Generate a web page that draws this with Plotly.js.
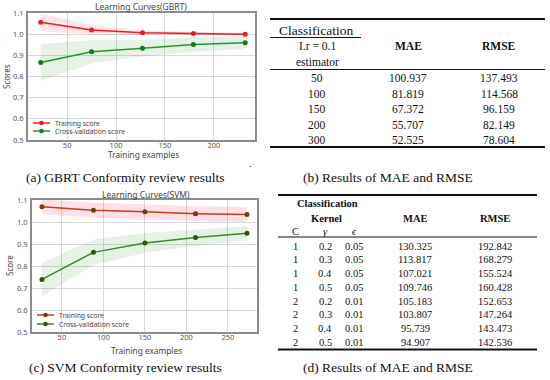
<!DOCTYPE html>
<html><head><meta charset="utf-8">
<script src="https://cdn.plot.ly/plotly-3.0.1.min.js"></script>
<style>html,body{margin:0;padding:0;background:#fff}#chart{width:550px;height:380px}</style>
</head><body><div id="chart"></div>
<script>
// ---- Data: (a) GBRT learning curve ----
const gbrtSizes = [23, 75, 127, 179, 232];
const gbrtTrainMean = [1.056, 1.020, 1.007, 1.003, 1.000];
const gbrtTrainStd = [0.042, 0.022, 0.012, 0.008, 0.006];
const gbrtCvMean = [0.866, 0.917, 0.934, 0.951, 0.959];
const gbrtCvStd = [0.086, 0.055, 0.040, 0.035, 0.030];

// ---- Data: (c) SVM learning curve ----
const svmSizes = [26, 88, 150, 211, 273];
const svmTrainMean = [1.069, 1.053, 1.047, 1.038, 1.034];
const svmTrainStd = [0.034, 0.034, 0.034, 0.034, 0.034];
const svmCvMean = [0.739, 0.862, 0.905, 0.929, 0.949];
const svmCvStd = [0.075, 0.058, 0.045, 0.038, 0.032];

const seriesNames = ['Training score', 'Cross-validation score'];

// ---- Data: (b) table ----
const tableBEstimators = ['50', '100', '150', '200', '300'];
const tableBMAE = ['100.937', '81.819', '67.372', '55.707', '52.525'];
const tableBRMSE = ['137.493', '114.568', '96.159', '82.149', '78.604'];

// ---- Data: (d) table ----
const tableDC = ['1', '1', '1', '1', '2', '2', '2', '2'];
const tableDGamma = ['0.2', '0.3', '0.4', '0.5', '0.2', '0.3', '0.4', '0.5'];
const tableDEps = ['0.05', '0.05', '0.05', '0.05', '0.01', '0.01', '0.01', '0.01'];
const tableDMAE = ['130.325', '113.817', '107.021', '109.746', '105.183', '103.807', '95.739', '94.907'];
const tableDRMSE = ['192.842', '168.279', '155.524', '160.428', '152.653', '147.264', '143.473', '142.536'];

// ---- Captions ----
const captions = ['(a) GBRT Conformity review results', '(b) Results of MAE and RMSE',
                  '(c) SVM Conformity review results', '(d) Results of MAE and RMSE'];

const W = 550, H = 380;
const px = x => x / W;
const py = y => 1 - y / H;

const colors = {
  aTrain: '#f01a22', aTrainM: '#f01a22', aCv: '#1f9a2a', aCvM: '#137a1c',
  cTrain: '#c0401a', cTrainM: '#7a3a08', cCv: '#3a8a2a', cCvM: '#2f5508'
};

function band(xs, m, s, color, xa, ya) {
  const up = m.map((v, i) => v + s[i]);
  const lo = m.map((v, i) => v - s[i]);
  return {x: xs.concat(xs.slice().reverse()), y: up.concat(lo.slice().reverse()),
    fill: 'toself', fillcolor: color, line: {width: 0}, mode: 'lines',
    hoverinfo: 'skip', showlegend: false, xaxis: xa, yaxis: ya};
}
function curve(xs, m, name, lc, mc, xa, ya) {
  return {x: xs, y: m, name: name, mode: 'lines+markers',
    line: {color: lc, width: 1.5}, marker: {color: mc, size: 5},
    xaxis: xa, yaxis: ya, showlegend: false};
}

const traces = [
  band(gbrtSizes, gbrtTrainMean, gbrtTrainStd, 'rgba(255,0,0,0.10)', 'x', 'y'),
  band(gbrtSizes, gbrtCvMean, gbrtCvStd, 'rgba(0,128,0,0.10)', 'x', 'y'),
  curve(gbrtSizes, gbrtTrainMean, seriesNames[0], colors.aTrain, colors.aTrainM, 'x', 'y'),
  curve(gbrtSizes, gbrtCvMean, seriesNames[1], colors.aCv, colors.aCvM, 'x', 'y'),
  band(svmSizes, svmTrainMean, svmTrainStd, 'rgba(255,0,60,0.12)', 'x2', 'y2'),
  band(svmSizes, svmCvMean, svmCvStd, 'rgba(0,128,0,0.10)', 'x2', 'y2'),
  curve(svmSizes, svmTrainMean, seriesNames[0], colors.cTrain, colors.cTrainM, 'x2', 'y2'),
  curve(svmSizes, svmCvMean, seriesNames[1], colors.cCv, colors.cCvM, 'x2', 'y2')
];

const axisFont = {family: 'Noto Sans, sans-serif', size: 7.5, color: '#555'};
function xax(domain, range, anchor) {
  return {domain: domain, range: range, anchor: anchor, dtick: 50, tick0: 0,
    showgrid: true, gridcolor: '#d9d9d9', gridwidth: 1, zeroline: false,
    showline: true, mirror: true, linecolor: '#8c8c8c', linewidth: 2,
    ticks: '', ticklen: 0, tickfont: axisFont, ticklabelstandoff: -3};
}
function yax(domain, anchor) {
  return {domain: domain, range: [0.5, 1.1], anchor: anchor, dtick: 0.1, tick0: 0.5,
    tickformat: '.1f', showgrid: true, gridcolor: '#d9d9d9', gridwidth: 1, zeroline: false,
    showline: true, mirror: true, linecolor: '#8c8c8c', linewidth: 2,
    ticks: '', ticklen: 0, tickfont: axisFont, ticklabelstandoff: 1};
}

const annotations = [];
const shapes = [];
function txt(x, y, text, size, opts) {
  annotations.push(Object.assign({xref: 'paper', yref: 'paper', x: px(x), y: py(y),
    text: text, showarrow: false, xanchor: 'center', yanchor: 'middle',
    font: {family: 'Liberation Serif, DejaVu Serif, serif', size: size, color: '#111'}}, opts || {}));
}
function sans(x, y, text, size, opts) {
  txt(x, y, text, size, Object.assign({font: {family: 'Noto Sans, sans-serif', size: size, color: '#444'}}, opts || {}));
}
function rule(x0, x1, y, w) {
  shapes.push({type: 'line', xref: 'paper', yref: 'paper', x0: px(x0), x1: px(x1), y0: py(y), y1: py(y),
    line: {color: '#111', width: w}});
}
function legendItem(x0, x1, y, lc, mc, label) {
  shapes.push({type: 'line', xref: 'paper', yref: 'paper', x0: px(x0), x1: px(x1), y0: py(y), y1: py(y),
    line: {color: lc, width: 1.5}});
  const cx = (x0 + x1) / 2, r = 2.3;
  shapes.push({type: 'circle', xref: 'paper', yref: 'paper', x0: px(cx - r), x1: px(cx + r),
    y0: py(y + r), y1: py(y - r), fillcolor: mc, line: {width: 0}});
  sans(x1 + 3, y, label, 6.8, {xanchor: 'left'});
}

// Chart titles / axis titles
sans(141, 7, 'Learning Curves(GBRT)', 8.5);
sans(143, 154.5, 'Training examples', 8.3);
sans(7, 77, 'Scores', 8, {textangle: -90});
sans(146, 194, 'Learning Curves(SVM)', 8.5);
sans(146, 350.5, 'Training examples', 8.3);
sans(9, 266, 'Score', 8, {textangle: -90});

// Legends
legendItem(33, 50, 123, colors.aTrain, colors.aTrainM, seriesNames[0]);
legendItem(33, 50, 131, colors.aCv, colors.aCvM, seriesNames[1]);
legendItem(37, 54, 315, colors.cTrain, colors.cTrainM, seriesNames[0]);
legendItem(37, 54, 324, colors.cCv, colors.cCvM, seriesNames[1]);

// Table (b)
rule(270, 545, 19, 2);
txt(316, 30, 'Classification', 13.5);
rule(270, 361, 37.5, 1);
txt(317, 46, 'I.r = 0.1', 11.5);
txt(317, 62, 'estimator', 11.5);
txt(408, 46, '<b>MAE</b>', 11.5);
txt(499, 46, '<b>RMSE</b>', 11.5);
rule(270, 545, 69.5, 1);
const rowB = [78, 94, 109, 125, 140];
tableBEstimators.forEach((v, i) => {
  txt(317, rowB[i], v, 11.5);
  txt(408, rowB[i], tableBMAE[i], 11.5);
  txt(499, rowB[i], tableBRMSE[i], 11.5);
});
rule(270, 545, 147, 2);

// Table (d)
rule(278, 537, 195, 2);
txt(327, 203, '<b>Classification</b>', 10.5);
txt(326, 218, '<b>Kernel</b>', 10.5);
txt(415, 218, '<b>MAE</b>', 10.5);
txt(495, 218, '<b>RMSE</b>', 10.5);
txt(295, 231, 'C', 10.5);
txt(325, 231, '<i>γ</i>', 10.5);
txt(354, 231, '<i>ϵ</i>', 10.5);
rule(278, 537, 237, 1);
const rowD = [246, 259.5, 273, 287, 301, 314.5, 328, 342];
tableDC.forEach((v, i) => {
  txt(295, rowD[i], v, 10.5);
  txt(325, rowD[i], tableDGamma[i], 10.5);
  txt(354, rowD[i], tableDEps[i], 10.5);
  txt(415, rowD[i], tableDMAE[i], 10.5);
  txt(495, rowD[i], tableDRMSE[i], 10.5);
});
rule(278, 537, 349.5, 2);

// Captions
txt(125, 177, captions[0], 13.5);
txt(388, 177, captions[1], 13.5);
txt(125, 367, captions[2], 13.5);
txt(388, 367, captions[3], 13.5);
txt(250, 163, '.', 10);

const layout = {
  width: W, height: H, margin: {l: 0, r: 0, t: 0, b: 0},
  paper_bgcolor: '#fff', plot_bgcolor: '#fff', showlegend: false,
  xaxis: xax([px(28), px(255)], [10, 242], 'y'),
  yaxis: yax([py(140), py(13)], 'x'),
  xaxis2: xax([px(32), px(257)], [14, 285], 'y2'),
  yaxis2: yax([py(332), py(200)], 'x2'),
  annotations: annotations, shapes: shapes
};
Plotly.newPlot('chart', traces, layout, {staticPlot: true, displayModeBar: false});
</script>
</body></html>
